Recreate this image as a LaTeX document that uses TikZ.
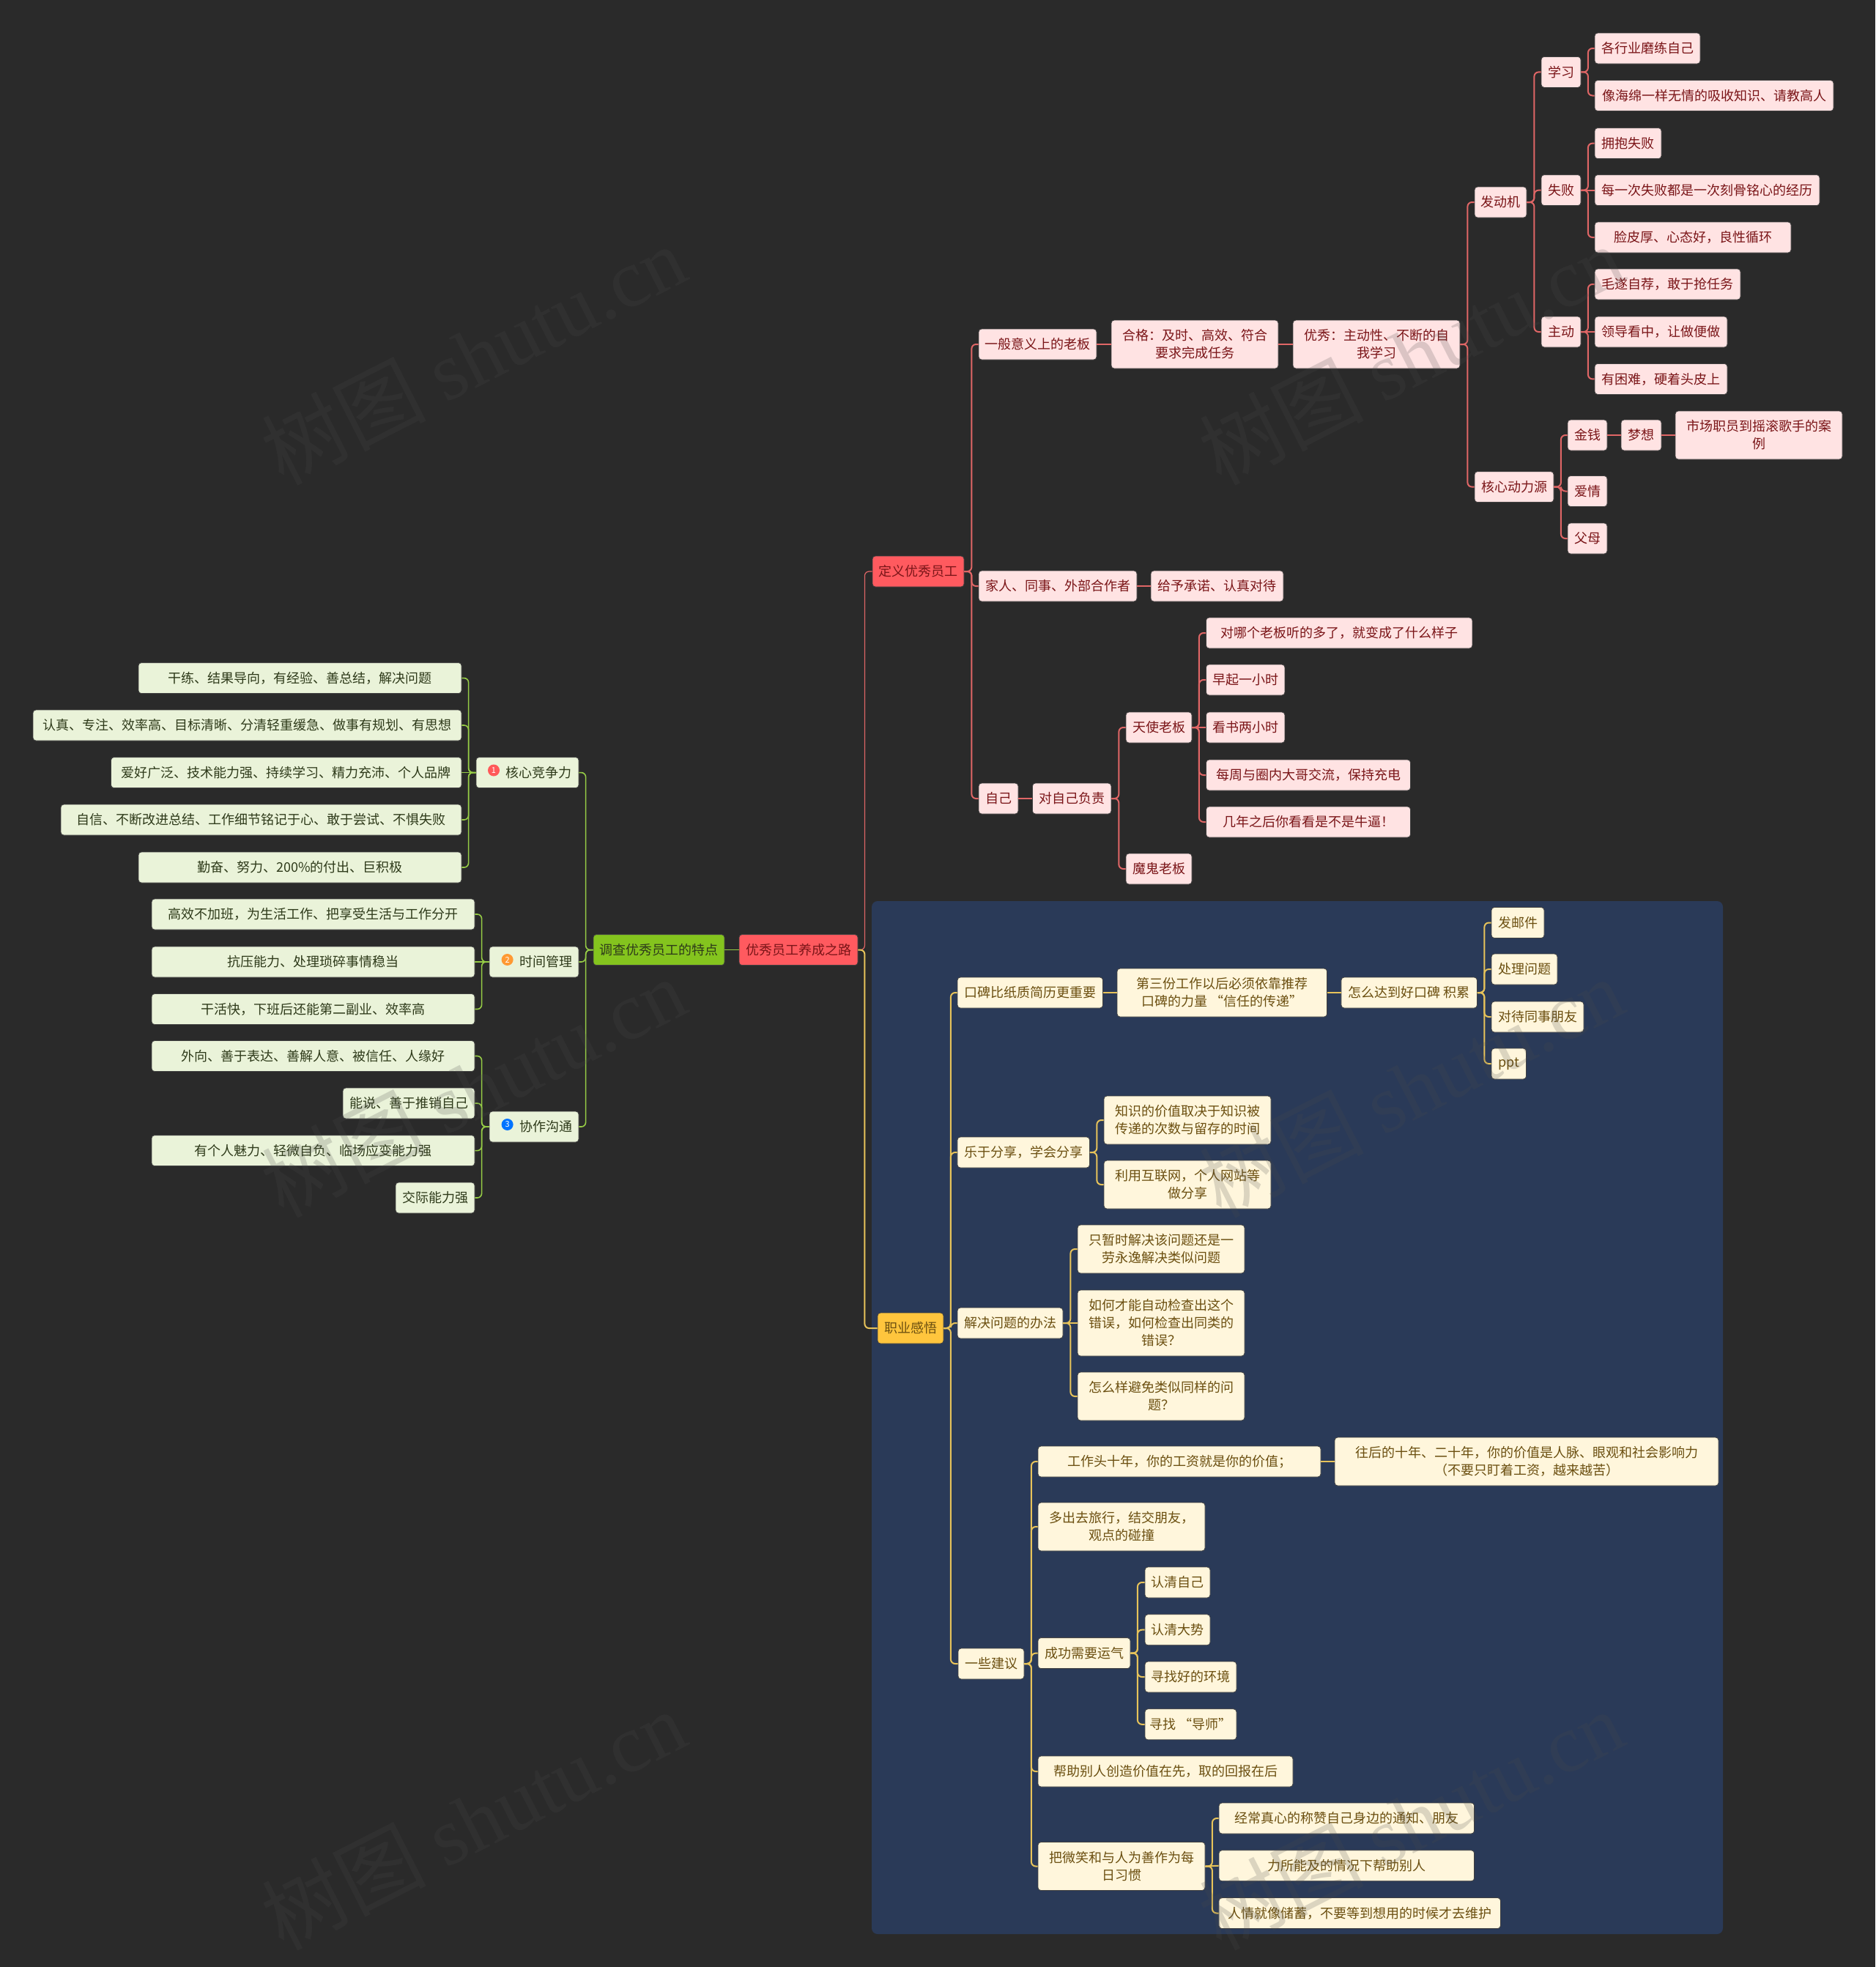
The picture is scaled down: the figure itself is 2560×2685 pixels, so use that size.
\documentclass[tikz,border=0pt]{standalone}
\usepackage{fontspec}
\setmainfont{Noto Sans CJK SC}
\newfontfamily\wmlatin{Liberation Serif}
\usetikzlibrary{positioning,calc}
\definecolor{bgdark}{HTML}{2A2A2A}
\definecolor{panelblue}{HTML}{2A3A58}
\definecolor{rootred}{HTML}{FF5A5F}
\definecolor{pinkfill}{HTML}{FFE3E3}
\definecolor{pinktext}{HTML}{7A1518}
\definecolor{pinkline}{HTML}{E06666}
\definecolor{greenhead}{HTML}{84C41E}
\definecolor{greenfill}{HTML}{EAF3D9}
\definecolor{greentext}{HTML}{2E3A1A}
\definecolor{greenline}{HTML}{96CC46}
\definecolor{yellowhead}{HTML}{FFC53D}
\definecolor{yellowfill}{HTML}{FFF6DC}
\definecolor{yellowtext}{HTML}{6B4F10}
\definecolor{yellowline}{HTML}{E7C35A}

\begin{document}
\begin{tikzpicture}[
  x=1pt, y=-1pt,
  every node/.style={align=center, inner sep=0pt, font=\fontsize{18}{24}\selectfont},
  box/.style={rounded corners=4pt, minimum height=42pt, draw=black!75, line width=0.8pt},
  two/.style={minimum height=66pt},
  three/.style={minimum height=90pt},
  pk/.style={box, fill=pinkfill, text=pinktext},
  pkhead/.style={box, fill=rootred, text=pinktext},
  gn/.style={box, fill=greenfill, text=greentext},
  gnhead/.style={box, fill=greenhead, text=greentext},
  yl/.style={box, fill=yellowfill, text=yellowtext},
  ylhead/.style={box, fill=yellowhead, text=yellowtext},
  badge/.style={circle, minimum size=16pt, text=white, font=\fontsize{11}{11}\selectfont},
  wmark/.style={font=\fontsize{112}{112}\selectfont, text=black!70, opacity=0.2, rotate=27},
  lnR/.style={draw=pinkline, line width=2pt, rounded corners=6pt},
  lnRt/.style={draw=pinkline, line width=1.2pt, rounded corners=6pt},
  lnG/.style={draw=greenline, line width=1.6pt, rounded corners=6pt},
  lnY/.style={draw=yellowline, line width=2pt, rounded corners=6pt}
]
\useasboundingbox (0,0) rectangle (2560,2685);
\fill[bgdark] (0,0) rectangle (2560,2685);
\fill[panelblue, rounded corners=8pt] (1190,1230) rectangle (2352,2640);

% --- root and its left branch ---
\node[pkhead, minimum width=162pt] (root) at (1090,1296.6) {优秀员工养成之路};
\node[gnhead, minimum width=179pt] (survey) at (899.5,1296.6) {调查优秀员工的特点};

\node[gn, minimum width=140pt] (core) at (720,1054.6) {\hspace*{31pt}核心竞争力};
\node[gn, minimum width=122pt] (timem) at (729,1313) {\hspace*{32pt}时间管理};
\node[gn, minimum width=122pt] (team) at (729,1538) {\hspace*{32pt}协作沟通};
\node[badge, fill=red!65!white] (bone) at (674,1051.5) {1};
\node[badge, fill=orange!80!white] (btwo) at (692.6,1310) {2};
\node[badge, fill=blue!55!cyan] (bthree) at (692.6,1535) {3};

\node[gn, minimum width=441pt] (core1) at (409.5,925.6) {干练、结果导向，有经验、善总结，解决问题};
\node[gn, minimum width=585pt] (core2) at (337.5,990) {认真、专注、效率高、目标清晰、分清轻重缓急、做事有规划、有思想};
\node[gn, minimum width=478.5pt] (core3) at (390.8,1054.6) {爱好广泛、技术能力强、持续学习、精力充沛、个人品牌};
\node[gn, minimum width=547pt] (core4) at (356.5,1119) {自信、不断改进总结、工作细节铭记于心、敢于尝试、不惧失败};
\node[gn, minimum width=441pt] (core5) at (409.5,1184) {勤奋、努力、200\%的付出、巨积极};

\node[gn, minimum width=441pt] (time1) at (427.5,1248) {高效不加班，为生活工作、把享受生活与工作分开};
\node[gn, minimum width=441pt] (time2) at (427.5,1313) {抗压能力、处理琐碎事情稳当};
\node[gn, minimum width=441pt] (time3) at (427.5,1377.5) {干活快，下班后还能第二副业、效率高};

\node[gn, minimum width=441pt] (team1) at (427.5,1441.5) {外向、善于表达、善解人意、被信任、人缘好};
\node[gn, minimum width=180pt] (team2) at (558,1506) {能说、善于推销自己};
\node[gn, minimum width=441pt] (team3) at (427.5,1570.6) {有个人魅力、轻微自负、临场应变能力强};
\node[gn, minimum width=108pt] (team4) at (594,1635) {交际能力强};

% --- define branch ---
\node[pkhead, minimum width=125pt] (define) at (1253.5,780) {定义优秀员工};
\node[pk, minimum width=161pt] (boss) at (1416.5,470) {一般意义上的老板};
\node[pk, two, minimum width=228pt] (pass) at (1631,470) {合格：及时、高效、符合\\要求完成任务};
\node[pk, two, minimum width=228pt] (good) at (1879,470) {优秀：主动性、不断的自\\我学习};
\node[pk, minimum width=71pt] (engine) at (2048.5,276) {发动机};
\node[pk, minimum width=54pt] (learn) at (2131,98.4) {学习};
\node[pk, minimum width=144pt] (learn1) at (2249,66) {各行业磨练自己};
\node[pk, minimum width=326pt] (learn2) at (2340,130.5) {像海绵一样无情的吸收知识、请教高人};
\node[pk, minimum width=54pt] (fail) at (2131,259.6) {失败};
\node[pk, minimum width=91pt] (fail1) at (2222.5,195.6) {拥抱失败};
\node[pk, minimum width=307pt] (fail2) at (2330.5,259.6) {每一次失败都是一次刻骨铭心的经历};
\node[pk, minimum width=268pt] (fail3) at (2311,324) {脸皮厚、心态好，良性循环};
\node[pk, minimum width=54pt] (active) at (2131,453) {主动};
\node[pk, minimum width=199pt] (active1) at (2276.5,388) {毛遂自荐，敢于抢任务};
\node[pk, minimum width=181pt] (active2) at (2267.5,453) {领导看中，让做便做};
\node[pk, minimum width=181pt] (active3) at (2267.5,517.4) {有困难，硬着头皮上};
\node[pk, minimum width=108pt] (power) at (2067,664.6) {核心动力源};
\node[pk, minimum width=54pt] (money) at (2167,594) {金钱};
\node[pk, minimum width=55pt] (dream) at (2240.5,594) {梦想};
\node[pk, two, minimum width=228pt] (dream1) at (2401,594) {市场职员到摇滚歌手的案\\例};
\node[pk, minimum width=54pt] (love) at (2167,670.5) {爱情};
\node[pk, minimum width=54pt] (parent) at (2167,735) {父母};

\node[pk, minimum width=216pt] (family) at (1444,800) {家人、同事、外部合作者};
\node[pk, minimum width=181pt] (promise) at (1661.5,800) {给予承诺、认真对待};

\node[pk, minimum width=54pt] (self) at (1363,1090) {自己};
\node[pk, minimum width=107.5pt] (duty) at (1463.2,1090) {对自己负责};
\node[pk, minimum width=90pt] (angel) at (1582,993) {天使老板};
\node[pk, minimum width=363.5pt] (angel1) at (1828.2,864) {对哪个老板听的多了，就变成了什么样子};
\node[pk, minimum width=107.5pt] (angel2) at (1700.2,928) {早起一小时};
\node[pk, minimum width=107.5pt] (angel3) at (1700.2,993) {看书两小时};
\node[pk, minimum width=279pt] (angel4) at (1786,1058) {每周与圈内大哥交流，保持充电};
\node[pk, minimum width=279pt] (angel5) at (1786,1122) {几年之后你看看是不是牛逼！};
\node[pk, minimum width=90pt] (devil) at (1582,1186) {魔鬼老板};

% --- career branch ---
\node[ylhead, minimum width=90pt] (career) at (1243,1813) {职业感悟};
\node[yl, minimum width=198.6pt] (word) at (1406.3,1355) {口碑比纸质简历更重要};
\node[yl, two, minimum width=286.6pt] (third) at (1668.3,1355) {第三份工作以后必须依靠推荐\\口碑的力量 “信任的传递”};
\node[yl, minimum width=185.5pt] (howto) at (1923.7,1355) {怎么达到好口碑 积累};
\node[yl, minimum width=72pt] (mail) at (2072,1259.5) {发邮件};
\node[yl, minimum width=90pt] (issue) at (2081,1323) {处理问题};
\node[yl, minimum width=126pt] (peer) at (2099,1388) {对待同事朋友};
\node[yl, minimum width=47.5pt] (ppt) at (2059.8,1452) {ppt};

\node[yl, minimum width=180.5pt] (share) at (1397.2,1573) {乐于分享，学会分享};
\node[yl, two, minimum width=228pt] (share1) at (1621,1529) {知识的价值取决于知识被\\传递的次数与留存的时间};
\node[yl, two, minimum width=228pt] (share2) at (1621,1617) {利用互联网，个人网站等\\做分享};

\node[yl, minimum width=144pt] (solve) at (1379,1806) {解决问题的办法};
\node[yl, two, minimum width=228pt] (solve1) at (1585,1705) {只暂时解决该问题还是一\\劳永逸解决类似问题};
\node[yl, three, minimum width=228pt] (solve2) at (1585,1806) {如何才能自动检查出这个\\错误，如何检查出同类的\\错误？};
\node[yl, two, minimum width=228pt] (solve3) at (1585,1906) {怎么样避免类似同样的问\\题？};

\node[yl, minimum width=90pt] (advice) at (1353,2271) {一些建议};
\node[yl, minimum width=386pt] (adv1) at (1610,1995) {工作头十年，你的工资就是你的价值；};
\node[yl, two, minimum width=524pt] (adv1a) at (2084,1995) {往后的十年、二十年，你的价值是人脉、眼观和社会影响力\\（不要只盯着工资，越来越苦）};
\node[yl, two, minimum width=228pt] (adv2) at (1531,2084) {多出去旅行，结交朋友，\\观点的碰撞};
\node[yl, minimum width=126pt] (luck) at (1480,2256.6) {成功需要运气};
\node[yl, minimum width=89pt] (luck1) at (1607.5,2160) {认清自己};
\node[yl, minimum width=89pt] (luck2) at (1607.5,2224.7) {认清大势};
\node[yl, minimum width=125pt] (luck3) at (1625.5,2289) {寻找好的环境};
\node[yl, minimum width=125pt] (luck4) at (1625.5,2353.8) {寻找 “导师”};
\node[yl, minimum width=348pt] (adv4) at (1591,2418) {帮助别人创造价值在先，取的回报在后};
\node[yl, two, minimum width=228pt] (smile) at (1531,2547.5) {把微笑和与人为善作为每\\日习惯};
\node[yl, minimum width=348.6pt] (smile1) at (1838.3,2482) {经常真心的称赞自己身边的通知、朋友};
\node[yl, minimum width=348.6pt] (smile2) at (1838.3,2546.7) {力所能及的情况下帮助别人};
\node[yl, minimum width=384.5pt] (smile3) at (1856.2,2611.5) {人情就像储蓄，不要等到想用的时候才去维护};

% --- connectors, left side ---
\draw[lnG] (root.west) -- (survey.east);
\draw[lnG] (survey.west) -- ++(-10,0) |- (core.east);
\draw[lnG] (survey.west) -- ++(-10,0) |- (timem.east);
\draw[lnG] (survey.west) -- ++(-10,0) |- (team.east);
\draw[lnG] (core.west) -- ++(-10,0) |- (core1.east);
\draw[lnG] (core.west) -- ++(-10,0) |- (core2.east);
\draw[lnG] (core.west) -- (core3.east);
\draw[lnG] (core.west) -- ++(-10,0) |- (core4.east);
\draw[lnG] (core.west) -- ++(-10,0) |- (core5.east);
\draw[lnG] (timem.west) -- ++(-10,0) |- (time1.east);
\draw[lnG] (timem.west) -- (time2.east);
\draw[lnG] (timem.west) -- ++(-10,0) |- (time3.east);
\draw[lnG] (team.west) -- ++(-10,0) |- (team1.east);
\draw[lnG] (team.west) -- ++(-10,0) |- (team2.east);
\draw[lnG] (team.west) -- ++(-10,0) |- (team3.east);
\draw[lnG] (team.west) -- ++(-10,0) |- (team4.east);

% --- connectors, define branch ---
\draw[lnRt] (root.east) -- ++(9,0) |- (define.west);
\draw[lnR] (define.east) -- ++(10,0) |- (boss.west);
\draw[lnR] (define.east) -- ++(10,0) |- (family.west);
\draw[lnR] (define.east) -- ++(10,0) |- (self.west);
\draw[lnR] (boss.east) -- (pass.west);
\draw[lnR] (pass.east) -- (good.west);
\draw[lnR] (good.east) -- ++(10,0) |- (engine.west);
\draw[lnR] (good.east) -- ++(10,0) |- (power.west);
\draw[lnR] (engine.east) -- ++(10,0) |- (learn.west);
\draw[lnR] (engine.east) -- ++(10,0) |- (fail.west);
\draw[lnR] (engine.east) -- ++(10,0) |- (active.west);
\draw[lnR] (learn.east) -- ++(9.5,0) |- (learn1.west);
\draw[lnR] (learn.east) -- ++(9.5,0) |- (learn2.west);
\draw[lnR] (fail.east) -- ++(9.5,0) |- (fail1.west);
\draw[lnR] (fail.east) -- (fail2.west);
\draw[lnR] (fail.east) -- ++(9.5,0) |- (fail3.west);
\draw[lnR] (active.east) -- ++(9.5,0) |- (active1.west);
\draw[lnR] (active.east) -- (active2.west);
\draw[lnR] (active.east) -- ++(9.5,0) |- (active3.west);
\draw[lnR] (power.east) -- ++(9.5,0) |- (money.west);
\draw[lnR] (power.east) -- ++(9.5,0) |- (love.west);
\draw[lnR] (power.east) -- ++(9.5,0) |- (parent.west);
\draw[lnR] (money.east) -- (dream.west);
\draw[lnR] (dream.east) -- (dream1.west);
\draw[lnR] (family.east) -- (promise.west);
\draw[lnR] (self.east) -- (duty.west);
\draw[lnR] (duty.east) -- ++(10,0) |- (angel.west);
\draw[lnR] (duty.east) -- ++(10,0) |- (devil.west);
\draw[lnR] (angel.east) -- ++(9.5,0) |- (angel1.west);
\draw[lnR] (angel.east) -- ++(9.5,0) |- (angel2.west);
\draw[lnR] (angel.east) -- (angel3.west);
\draw[lnR] (angel.east) -- ++(9.5,0) |- (angel4.west);
\draw[lnR] (angel.east) -- ++(9.5,0) |- (angel5.west);

% --- connectors, career branch ---
\draw[lnY] (root.east) -- ++(9,0) |- (career.west);
\draw[lnY] (career.east) -- ++(9.5,0) |- (word.west);
\draw[lnY] (career.east) -- ++(9.5,0) |- (share.west);
\draw[lnY] (career.east) -- ++(9.5,0) |- (solve.west);
\draw[lnY] (career.east) -- ++(9.5,0) |- (advice.west);
\draw[lnY] (word.east) -- (third.west);
\draw[lnY] (third.east) -- (howto.west);
\draw[lnY] (howto.east) -- ++(9.5,0) |- (mail.west);
\draw[lnY] (howto.east) -- ++(9.5,0) |- (issue.west);
\draw[lnY] (howto.east) -- ++(9.5,0) |- (peer.west);
\draw[lnY] (howto.east) -- ++(9.5,0) |- (ppt.west);
\draw[lnY] (share.east) -- ++(9.5,0) |- (share1.west);
\draw[lnY] (share.east) -- ++(9.5,0) |- (share2.west);
\draw[lnY] (solve.east) -- ++(10,0) |- (solve1.west);
\draw[lnY] (solve.east) -- (solve2.west);
\draw[lnY] (solve.east) -- ++(10,0) |- (solve3.west);
\draw[lnY] (advice.east) -- ++(9.5,0) |- (adv1.west);
\draw[lnY] (advice.east) -- ++(9.5,0) |- (adv2.west);
\draw[lnY] (advice.east) -- ++(9.5,0) |- (luck.west);
\draw[lnY] (advice.east) -- ++(9.5,0) |- (adv4.west);
\draw[lnY] (advice.east) -- ++(9.5,0) |- (smile.west);
\draw[lnY] (adv1.east) -- (adv1a.west);
\draw[lnY] (luck.east) -- ++(9.5,0) |- (luck1.west);
\draw[lnY] (luck.east) -- ++(9.5,0) |- (luck2.west);
\draw[lnY] (luck.east) -- ++(9.5,0) |- (luck3.west);
\draw[lnY] (luck.east) -- ++(9.5,0) |- (luck4.west);
\draw[lnY] (smile.east) -- ++(9.5,0) |- (smile1.west);
\draw[lnY] (smile.east) -- (smile2.west);
\draw[lnY] (smile.east) -- ++(9.5,0) |- (smile3.west);

% --- faint diagonal marks over everything ---
\node[wmark] (wmA) at (646,484) {树图 {\wmlatin shutu.cn}};
\node[wmark] (wmB) at (1926,484) {树图 {\wmlatin shutu.cn}};
\node[wmark] (wmC) at (646,1484) {树图 {\wmlatin shutu.cn}};
\node[wmark] (wmD) at (1926,1484) {树图 {\wmlatin shutu.cn}};
\node[wmark] (wmE) at (646,2484) {树图 {\wmlatin shutu.cn}};
\node[wmark] (wmF) at (1926,2484) {树图 {\wmlatin shutu.cn}};

\end{tikzpicture}
\end{document}
